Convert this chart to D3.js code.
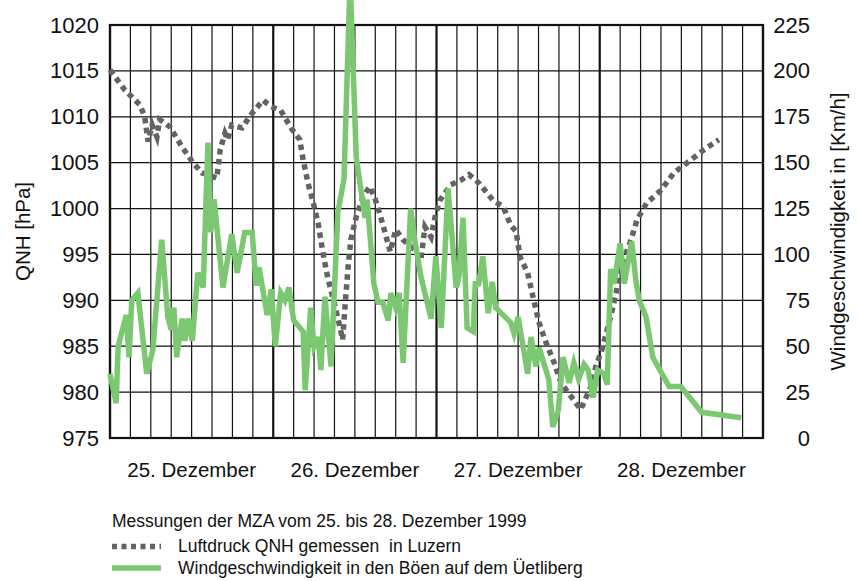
<!DOCTYPE html>
<html>
<head>
<meta charset="utf-8">
<script src="https://cdn.jsdelivr.net/npm/d3@7"></script>
<style>
  body { margin: 0; background: #fff; }
  svg { display: block; font-family: "Liberation Sans", Arial, sans-serif; }
</style>
</head>
<body>
<svg id="chart" width="858" height="581"></svg>
<script>
// Luftdruck (QNH Luzern) und Windboeen (Uetliberg), 25.-28.12.1999

// hours since 25.12. 00:00
const pressHours = [0, 2.2, 4.4, 5.1, 5.6, 6.2, 6.9, 7.3, 8.8, 10.6, 12.2, 13.5, 14.7, 15.7, 16.2, 16.9, 17.3, 17.9,
  19.4, 20.9, 22.5, 23.7, 25.1, 26.6, 27.9, 28.4, 29.1, 29.8, 30.6, 31.3, 32.0, 33.1, 33.8, 34.2, 34.7, 35.0, 35.4,
  36.2, 37.2, 38.2, 39.0, 39.8, 40.6, 41.2, 42.0, 43.1, 44.8, 45.7, 46.3, 47.2, 47.9, 48.5, 50.1, 51.6, 52.8, 54.2,
  56.3, 57.8, 58.9, 59.7, 60.3, 61.4, 62.3, 63.1, 64.1, 65.3, 66.3, 67.8, 69.2, 70.7, 71.4, 72.3, 73.6, 74.4, 75.1,
  76.6, 77.5, 78.9, 81.0, 82.9, 85.4, 87.3, 89.5];
const pressValues = [1015.1, 1012.9, 1011.3, 1010.0, 1007.3, 1009.1, 1007.8, 1009.7, 1008.9, 1006.7, 1005.0, 1003.9,
  1003.6, 1003.3, 1006.4, 1008.2, 1007.5, 1009.1, 1008.8, 1010.4, 1011.8, 1011.1, 1010.7, 1008.8, 1007.5, 1005.3,
  1002.8, 1000.9, 998.4, 995.2, 992.5, 989.3, 987.1, 985.7, 990.8, 993.6, 996.6, 999.1, 1001.3, 1002.4, 1001.0,
  999.1, 996.9, 995.3, 997.7, 996.6, 995.5, 994.4, 998.0, 996.9, 999.5, 1000.9, 1002.6, 1003.1, 1003.7, 1002.8,
  1000.9, 1000.2, 998.2, 997.5, 994.7, 993.0, 990.0, 987.5, 985.4, 983.2, 981.0, 979.5, 978.1, 980.6, 982.7, 984.6,
  988.2, 990.8, 993.6, 996.6, 998.8, 1000.6, 1002.0, 1003.9, 1005.3, 1006.4, 1007.5];

const windHours = [0, 0.9, 1.2, 2.4, 2.8, 3.2, 4.1, 5.4, 6.3, 7.6, 8.5, 9.0, 9.4, 9.8, 10.6, 11.0, 11.5, 12.1, 12.9,
  13.7, 14.4, 14.8, 15.3, 16.6, 17.9, 18.7, 19.8, 20.9, 21.5, 21.9, 23.1, 23.7, 24.3, 25.1, 25.7, 26.3, 27.0, 28.4,
  28.7, 29.5, 30.0, 30.6, 31.0, 31.6, 32.5, 33.5, 34.4, 35.3, 36.2, 36.9, 37.5, 37.8, 38.8, 39.4, 40.1, 40.9, 41.3,
  42.0, 42.5, 43.1, 44.2, 44.8, 45.7, 47.2, 47.9, 48.7, 49.7, 50.9, 51.3, 51.9, 52.5, 53.4, 53.7, 54.2, 54.8, 55.6,
  56.2, 56.7, 58.9, 59.4, 60.0, 61.4, 61.9, 62.6, 63.1, 64.5, 65.1, 65.9, 66.6, 67.5, 68.2, 68.9, 69.7, 70.3, 71.0,
  71.7, 72.6, 73.1, 73.6, 74.1, 75.0, 75.6, 76.7, 77.3, 77.8, 78.8, 79.8, 82.2, 83.9, 87.0, 92.8];
const windValues = [35, 19, 50, 67, 44, 75, 79, 35, 48, 108, 66, 59, 71, 44, 65, 53, 65, 53, 90,
  82, 161, 112, 130, 82, 111, 90, 112, 112, 83, 93, 67, 81, 50, 79, 75, 82, 64, 58,
  26, 71, 50, 55, 37, 77, 39, 123, 141, 250, 153, 135, 120, 130, 84, 74, 74, 64, 79,
  71, 79, 41, 125, 108, 88, 65, 99, 60, 136, 82, 88, 120, 60, 58, 84, 84, 99, 68,
  85, 71, 63, 57, 66, 35, 55, 39, 49, 32, 6, 15, 44, 30, 41, 32, 40, 37, 22,
  37, 35, 29, 92, 84, 106, 84, 107, 86, 75, 66, 44, 28, 28, 14, 11];

const pressTicks = [975, 980, 985, 990, 995, 1000, 1005, 1010, 1015, 1020];
const windTicks = [0, 25, 50, 75, 100, 125, 150, 175, 200, 225];
const dayLabels = ["25. Dezember", "26. Dezember", "27. Dezember", "28. Dezember"];
const legendTitle = "Messungen der MZA vom 25. bis 28. Dezember 1999";
const seriesNames = ["Luftdruck QNH gemessen  in Luzern", "Windgeschwindigkeit in den Böen auf dem Üetliberg"];

const grey = "#636363", green = "#7cc771";

const svg = d3.select("#chart");
const plotL = 110, plotR = 763, plotT = 25, plotB = 438;

const x = d3.scaleLinear().domain([0, 96]).range([plotL, plotR]);
const yP = d3.scaleLinear().domain([975, 1020]).range([plotB, plotT]);
const yW = d3.scaleLinear().domain([0, 225]).range([plotB, plotT]);

// grid
const grid = svg.append("g");
grid.selectAll("line.h")
    .data(pressTicks)
    .join("line")
    .attr("x1", plotL).attr("x2", plotR)
    .attr("y1", d => yP(d)).attr("y2", d => yP(d))
    .attr("stroke", "#111").attr("stroke-width", 1.2);
grid.selectAll("line.v")
    .data(d3.range(0, 97, 3))
    .join("line")
    .attr("x1", d => x(d)).attr("x2", d => x(d))
    .attr("y1", plotT).attr("y2", plotB)
    .attr("stroke", "#111")
    .attr("stroke-width", d => d % 24 === 0 ? 2.2 : 1.2);
svg.append("rect")
    .attr("x", plotL).attr("y", plotT)
    .attr("width", plotR - plotL).attr("height", plotB - plotT)
    .attr("fill", "none").attr("stroke", "#111").attr("stroke-width", 2.2);

// axes (labels only)
const axL = svg.append("g")
    .attr("transform", `translate(${plotL},0)`)
    .call(d3.axisLeft(yP).tickValues(pressTicks).tickFormat(d3.format("d")).tickSize(0).tickPadding(11));
const axR = svg.append("g")
    .attr("transform", `translate(${plotR},0)`)
    .call(d3.axisRight(yW).tickValues(windTicks).tickSize(0).tickPadding(9));
axR.selectAll("text").attr("text-anchor", "end").attr("x", 810 - plotR);
[axL, axR].forEach(a => {
    a.select(".domain").remove();
    a.selectAll("text").attr("font-size", "22px").attr("fill", "#111")
        .attr("font-family", "Liberation Sans, Arial, sans-serif");
});

svg.append("g").selectAll("text")
    .data(dayLabels)
    .join("text")
    .attr("x", (d, i) => x(i * 24 + 12))
    .attr("y", 477)
    .attr("text-anchor", "middle")
    .attr("font-size", "20.5px")
    .attr("fill", "#111")
    .text(d => d);

svg.append("text")
    .attr("transform", `translate(30,${(plotT + plotB) / 2}) rotate(-90)`)
    .attr("text-anchor", "middle")
    .attr("font-size", "20.5px").attr("fill", "#111")
    .text("QNH [hPa]");
svg.append("text")
    .attr("transform", `translate(845,${(plotT + plotB) / 2}) rotate(-90)`)
    .attr("text-anchor", "middle")
    .attr("font-size", "20.5px").attr("fill", "#111")
    .text("Windgeschwindigkeit in [Km/h]");

// series
const pressLine = d3.line().x(d => x(d[0])).y(d => yP(d[1]));
const windLine = d3.line().x(d => x(d[0])).y(d => yW(d[1]));

svg.append("path")
    .datum(d3.zip(pressHours, pressValues))
    .attr("d", pressLine)
    .attr("fill", "none")
    .attr("stroke", grey)
    .attr("stroke-width", 5.5)
    .attr("stroke-dasharray", "5.5,4.5");

svg.append("path")
    .datum(d3.zip(windHours, windValues))
    .attr("d", windLine)
    .attr("fill", "none")
    .attr("stroke", green)
    .attr("stroke-width", 5.5);

// legend
const lg = svg.append("g").attr("font-size", "17.5px").attr("fill", "#111");
lg.append("text").attr("x", 112).attr("y", 527).text(legendTitle);
lg.append("line")
    .attr("x1", 112).attr("x2", 161).attr("y1", 546.5).attr("y2", 546.5)
    .attr("stroke", grey).attr("stroke-width", 5.5).attr("stroke-dasharray", "5,4.5");
lg.append("text").attr("x", 178).attr("y", 552).style("white-space", "pre").text(seriesNames[0]);
lg.append("line")
    .attr("x1", 112).attr("x2", 161).attr("y1", 568).attr("y2", 568)
    .attr("stroke", green).attr("stroke-width", 5.5);
lg.append("text").attr("x", 178).attr("y", 574).style("white-space", "pre").text(seriesNames[1]);
</script>
</body>
</html>
